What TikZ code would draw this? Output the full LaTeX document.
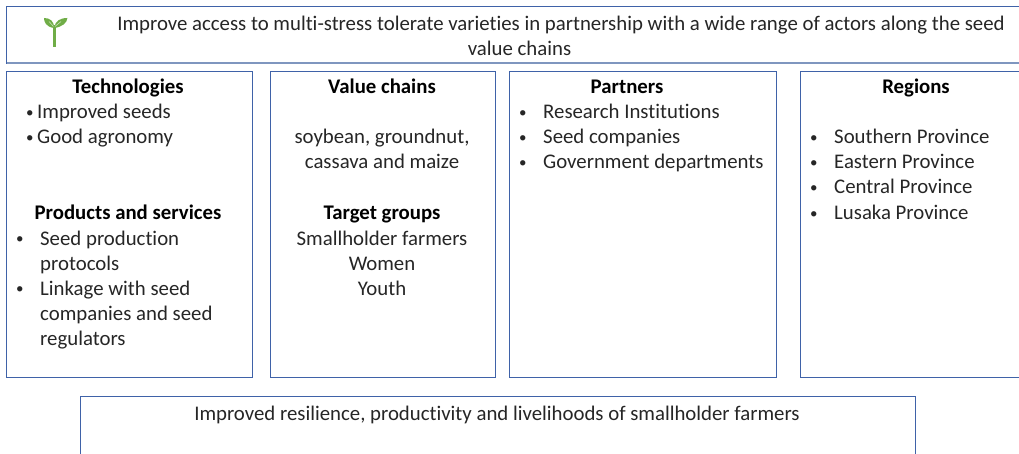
\documentclass[tikz,border=0pt]{standalone}
\usepackage{fontspec}
\setmainfont{Carlito}[Ligatures=NoCommon]
\definecolor{boxblue}{HTML}{3F62A8}
\definecolor{softblue}{HTML}{7F96BF}
\definecolor{txt}{HTML}{262626}
\definecolor{leaf}{HTML}{70AD47}
\tikzset{
  panel/.style={draw=boxblue,line width=0.9pt},
  lab/.style={text=txt,font=\fontsize{20.8}{25}\selectfont,inner sep=0pt,anchor=base},
  head/.style={lab,text=black,font=\fontsize{20.8}{25}\selectfont\bfseries},
  left/.style={lab,anchor=base west},
  dot/.style={lab,anchor=base west,font=\fontsize{15}{25}\selectfont,yshift=1.5pt}
}
\begin{document}
\begin{tikzpicture}[x=1pt,y=-1pt]
\useasboundingbox (0,0) rectangle (1019,454);
\fill[white] (0,0) rectangle (1019,454);
\begin{scope}
\clip (0,0) rectangle (1019,454);
\draw[panel] (6.5,6.5) rectangle (1030,63);
\draw[softblue,line width=1.5pt] (6.5,63) -- (1030,63);
\draw[panel] (6.5,71.5) rectangle (252,377);
\draw[panel] (270,71.5) rectangle (495,377);
\draw[panel] (509,71.5) rectangle (776,377);
\draw[panel] (800.5,71.5) rectangle (1030,377);
\draw[panel] (80.5,396) rectangle (915,470);
\end{scope}
% seedling
\fill[leaf] (53,25) rectangle (55.6,47.5);
\fill[leaf] (54.2,28) .. controls (46,27) and (44,22) .. (44,18) .. controls (50,18) and (54,21) .. (54.2,28) -- cycle;
\fill[leaf] (54.2,28) .. controls (62,27) and (67,23) .. (67.5,18) .. controls (60,18) and (55,21) .. (54.2,28) -- cycle;
\draw[white,opacity=.6,line width=.6pt] (49,21.5) -- (53.5,26.5);
\draw[white,opacity=.6,line width=.6pt] (61,21.5) -- (55,26.5);
% top
\node[lab] (t1) at (561,31) {Improve access to multi-stress tolerate varieties in partnership with a wide range of actors along the seed};
\node[lab] (t2) at (519.5,56) {value chains};
% technologies
\node[head] (a1) at (128,94) {Technologies};
\node[dot] (a2b) at (26,119) {•};
\node[left] (a2) at (37,119) {Improved seeds};
\node[dot] (a3b) at (26,144) {•};
\node[left] (a3) at (37,144) {Good agronomy};
\node[head] (a4) at (128,220) {Products and services};
\node[dot] (a5) at (16,245) {•};
\node[left] (a6) at (40,245) {Seed production};
\node[left] (a7) at (40,270) {protocols};
\node[dot] (a8) at (16,295) {•};
\node[left] (a9) at (40,295) {Linkage with seed};
\node[left] (a10) at (40,320) {companies and seed};
\node[left] (a11) at (40,345) {regulators};
% value chains
\node[head] (b1) at (382,94) {Value chains};
\node[lab] (b2) at (382,144) {soybean, groundnut,};
\node[lab] (b3) at (382,169) {cassava and maize};
\node[head] (b4) at (382,220) {Target groups};
\node[lab] (b5) at (382,245) {Smallholder farmers};
\node[lab] (b6) at (382,270) {Women};
\node[lab] (b7) at (382,295) {Youth};
% partners
\node[head] (c1) at (627,94) {Partners};
\node[dot] (c2) at (519,119) {•};
\node[left] (c3) at (543,119) {Research Institutions};
\node[dot] (c4) at (519,144) {•};
\node[left] (c5) at (543,144) {Seed companies};
\node[dot] (c6) at (519,169) {•};
\node[left] (c7) at (543,169) {Government departments};
% regions
\node[head] (d1) at (916,94) {Regions};
\node[dot] (d2) at (810,144) {•};
\node[left] (d3) at (834,144) {Southern Province};
\node[dot] (d4) at (810,169) {•};
\node[left] (d5) at (834,169) {Eastern Province};
\node[dot] (d6) at (810,194) {•};
\node[left] (d7) at (834,194) {Central Province};
\node[dot] (d8) at (810,220) {•};
\node[left] (d9) at (834,220) {Lusaka Province};
% bottom
\node[lab] (e1) at (497,420) {Improved resilience, productivity and livelihoods of smallholder farmers};
\end{tikzpicture}
\end{document}
